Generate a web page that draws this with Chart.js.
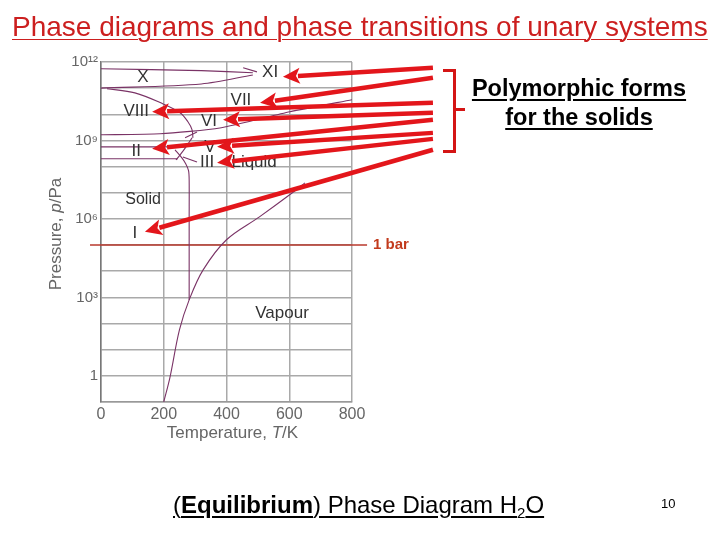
<!DOCTYPE html>
<html>
<head>
<meta charset="utf-8">
<script src="https://cdn.jsdelivr.net/npm/chart.js@4/dist/chart.umd.min.js"></script>
<style>
  html,body{margin:0;padding:0;background:#fff;}
  #wrap{position:relative;width:720px;height:540px;overflow:hidden;font-family:"Liberation Sans",Arial,sans-serif;}
  #c{position:absolute;left:0;top:0;}
  .t{position:absolute;white-space:nowrap;}
  #title{left:12px;top:11px;font-size:28px;line-height:32px;color:#cc1f1f;text-decoration:underline;text-decoration-thickness:1px;text-underline-offset:3px;}
  #poly{left:459px;top:74px;width:240px;text-align:center;font-size:23.5px;font-weight:bold;line-height:29px;text-decoration:underline;text-underline-offset:3px;}
  #foot{left:173px;top:490px;font-size:24px;line-height:30px;text-decoration:underline;text-underline-offset:3px;}
  #foot sub{font-size:15px;vertical-align:-5px;line-height:0;}
  #pg{left:661px;top:496px;font-size:13px;}
  #br{position:absolute;left:443px;top:69px;width:10px;height:78px;border-top:3px solid #d41515;border-right:3px solid #d41515;border-bottom:3px solid #d41515;}
  #brt{position:absolute;left:455px;top:108px;width:10px;height:3px;background:#d41515;}
</style>
</head>
<body>
<div id="wrap">
  <canvas id="c" width="720" height="540"></canvas>
  <div class="t" id="title">Phase diagrams and phase transitions of unary systems</div>
  <div id="br"></div><div id="brt"></div>
  <div class="t" id="poly">Polymorphic forms<br>for the solids</div>
  <div class="t" id="foot">(<b>Equilibrium</b>) Phase Diagram H<sub>2</sub>O</div>
  <div class="t" id="pg">10</div>
</div>
<script>
// ---- axis ticks ----
const xTickValues = [0, 200, 400, 600, 800];
const yTickValues = [1, 1e3, 1e6, 1e9, 1e12];
const yTickLabels = ['1', '10\u00B3', '10\u2076', '10\u2079', '10\u00B9\u00B2'];

// ---- phase boundaries (T in K, p in Pa) ----
const vapourT = [200, 220, 250, 281, 325, 400, 505, 610, 650];
const vapourP = [0.1, 0.9, 57, 800, 1.1e4, 1.6e5, 1.2e6, 1.0e7, 2.4e7];

const meltT = [281, 281, 281, 279, 270, 256, 236];
const meltP = [800, 1e6, 3e7, 7e7, 1.3e8, 2.3e8, 4.4e8];

const xUpperT = [0, 320, 484];
const xUpperP = [5.5e11, 4.7e11, 3.9e11];
const xLowerT = [0, 320, 484];
const xLowerP = [1.0e11, 1.45e11, 3.2e11];
const xiTickT = [453, 497];
const xiTickP = [6e11, 4.2e11];

const viiiT = [19, 108, 198, 252, 277, 290, 293];
const viiiP = [9.5e10, 6.6e10, 2.5e10, 1.15e10, 5.2e9, 2.6e9, 1.26e9];

const viiLiqT = [0, 188, 379, 602, 800];
const viiLiqP = [1.65e9, 1.8e9, 3e9, 1.25e10, 3.6e10];

const viTickT = [268, 306];
const viTickP = [1.26e9, 2.1e9];

const vCurveT = [290, 271, 252, 239];
const vCurveP = [1.26e9, 5.7e8, 2.8e8, 1.8e8];

const iiUpperT = [0, 268];
const iiUpperP = [5.7e8, 5.7e8];
const iiLowerT = [0, 245];
const iiLowerP = [2e8, 2e8];

const iiiTickT = [261, 306];
const iiiTickP = [2.35e8, 1.5e8];

const oneBarT = [-35, 848];
const oneBarP = [1e5, 1e5];

// ---- region labels ----
const phaseLabels = ['X', 'XI', 'VII', 'VIII', 'VI', 'V', 'II', 'III', 'Liquid', 'Solid', 'I', 'Vapour'];
const phaseLabelT = [134, 539, 446, 112, 344, 347, 112, 338, 488, 134, 108, 577];
const phaseLabelP = [2.5e11, 3.9e11, 3.3e10, 1.35e10, 5.6e9, 5.3e8, 3.7e8, 1.4e8, 1.4e8, 5.4e6, 2.7e5, 257];

// ---- annotation arrows (data coords) ----
const arrowTailT = [1058, 1058, 1058, 1058, 1058, 1058, 1058, 1058];
const arrowTailP = [6.0e11, 2.5e11, 2.75e10, 1.15e10, 6.2e9, 1.95e9, 1.15e9, 4.4e8];
const arrowTipT = [580, 507, 163, 389, 163, 370, 370, 140];
const arrowTipP = [2.7e11, 2.75e10, 1.26e10, 6.2e9, 4.8e8, 5.75e8, 1.4e8, 3.2e5];

const FONT = '"Liberation Sans", Arial, sans-serif';
const PURPLE = '#7a3366';

function pts(T, P) { return T.map((t, i) => ({x: t, y: P[i]})); }
function ds(T, P, tension) {
  return {data: pts(T, P), showLine: true, pointRadius: 0, borderColor: PURPLE,
          borderWidth: 1.1, tension: tension || 0, fill: false};
}

const datasets = [
  ds(vapourT, vapourP, 0.35),
  ds(meltT, meltP, 0.3),
  ds(xUpperT, xUpperP, 0.2),
  ds(xLowerT, xLowerP, 0.3),
  ds(xiTickT, xiTickP),
  ds(viiiT, viiiP, 0.35),
  ds(viiLiqT, viiLiqP, 0.2),
  ds(viTickT, viTickP),
  ds(vCurveT, vCurveP, 0.3),
  ds(iiUpperT, iiUpperP),
  ds(iiLowerT, iiLowerP),
  ds(iiiTickT, iiiTickP),
  Object.assign(ds(oneBarT, oneBarP), {borderColor: '#b8382c', borderWidth: 1.5, clip: false})
];

const overlay = {
  id: 'overlay',
  afterDatasetsDraw(chart) {
    const ctx = chart.ctx, xs = chart.scales.x, ys = chart.scales.y, ca = chart.chartArea;
    ctx.save();
    // region labels
    ctx.textAlign = 'center';
    ctx.textBaseline = 'middle';
    ctx.fillStyle = '#333';
    phaseLabels.forEach((s, i) => {
      ctx.font = (s === 'Solid' ? '16px ' : '17px ') + FONT;
      ctx.fillText(s, xs.getPixelForValue(phaseLabelT[i]), ys.getPixelForValue(phaseLabelP[i]));
    });
    // 1 bar label
    ctx.font = 'bold 15px ' + FONT;
    ctx.fillStyle = '#c23a1c';
    ctx.textAlign = 'left';
    ctx.fillText('1 bar', ca.right + 21, ys.getPixelForValue(1e5));
    // axis titles
    ctx.fillStyle = '#666';
    const drawMixed = (parts, cx, cy) => {
      let w = 0;
      parts.forEach(p => { ctx.font = (p[1] ? 'italic ' : '') + '17px ' + FONT; w += ctx.measureText(p[0]).width; });
      let x = cx - w / 2;
      ctx.textAlign = 'left';
      parts.forEach(p => { ctx.font = (p[1] ? 'italic ' : '') + '17px ' + FONT; ctx.fillText(p[0], x, cy); x += ctx.measureText(p[0]).width; });
    };
    drawMixed([['Temperature, ', false], ['T', true], ['/K', false]], (ca.left + ca.right) / 2 + 6, ca.bottom + 31);
    ctx.save();
    ctx.translate(ca.left - 45, (ca.top + ca.bottom) / 2 + 2);
    ctx.rotate(-Math.PI / 2);
    drawMixed([['Pressure, ', false], ['p', true], ['/Pa', false]], 0, 0);
    ctx.restore();
    // arrows
    ctx.strokeStyle = '#e3161b';
    ctx.fillStyle = '#e3161b';
    ctx.lineWidth = 4.5;
    ctx.lineCap = 'butt';
    for (let i = 0; i < arrowTipT.length; i++) {
      const x0 = xs.getPixelForValue(arrowTailT[i]), y0 = ys.getPixelForValue(arrowTailP[i]);
      const x1 = xs.getPixelForValue(arrowTipT[i]), y1 = ys.getPixelForValue(arrowTipP[i]);
      const a = Math.atan2(y1 - y0, x1 - x0), L = 17, H = 8;
      const bx = x1 - L * Math.cos(a), by = y1 - L * Math.sin(a);
      ctx.beginPath(); ctx.moveTo(x0, y0); ctx.lineTo(bx + 2 * Math.cos(a), by + 2 * Math.sin(a)); ctx.stroke();
      ctx.beginPath();
      ctx.moveTo(x1, y1);
      ctx.lineTo(bx + H * Math.sin(a), by - H * Math.cos(a));
      ctx.lineTo(bx + 4 * Math.cos(a), by + 4 * Math.sin(a));
      ctx.lineTo(bx - H * Math.sin(a), by + H * Math.cos(a));
      ctx.closePath(); ctx.fill();
    }
    ctx.restore();
  }
};

new Chart(document.getElementById('c'), {
  type: 'scatter',
  data: {datasets},
  options: {
    responsive: false,
    animation: false,
    events: [],
    layout: {padding: {left: 51, right: 368, top: 62, bottom: 108}},
    plugins: {legend: {display: false}, tooltip: {enabled: false}},
    scales: {
      x: {
        type: 'linear', min: 0, max: 800,
        afterBuildTicks: s => { s.ticks = xTickValues.map(v => ({value: v})); },
        afterFit: s => { s.height = 30; },
        ticks: {color: '#666', font: {size: 16, family: FONT}, padding: 3},
        grid: {color: '#a9a9a9', lineWidth: 1.5, drawTicks: false},
        border: {color: '#999', width: 1.5}
      },
      y: {
        type: 'logarithmic', min: 0.1, max: 1e12,
        afterBuildTicks: s => { const t = []; for (let k = -1; k <= 12; k++) t.push({value: Math.pow(10, k)}); s.ticks = t; },
        afterFit: s => { s.width = 50; },
        ticks: {
          color: '#666', font: {size: 15, family: FONT}, padding: 3, autoSkip: false,
          callback: v => { const k = yTickValues.findIndex(t => Math.abs(Math.log10(t) - Math.log10(v)) < 1e-6); return k >= 0 ? yTickLabels[k] : ''; }
        },
        grid: {color: '#a9a9a9', lineWidth: 1.5, drawTicks: false},
        border: {color: '#777', width: 1.5}
      }
    }
  },
  plugins: [overlay]
});
</script>
</body>
</html>
